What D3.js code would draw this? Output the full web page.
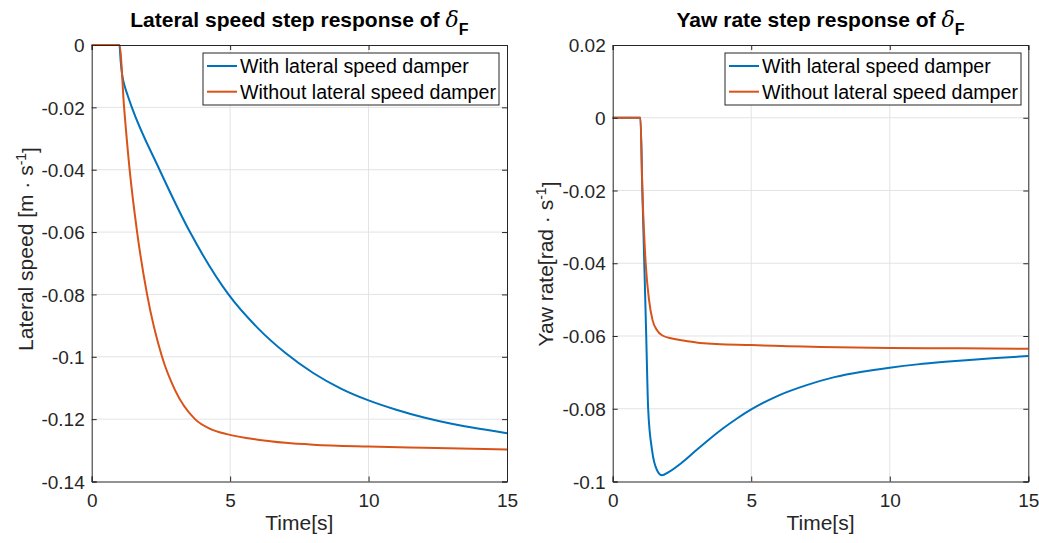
<!DOCTYPE html>
<html>
<head>
<meta charset="utf-8">
<script src="https://cdn.jsdelivr.net/npm/d3@7"></script>
<style>
  html, body { margin: 0; padding: 0; background: #fff; }
  svg { display: block; font-family: "Liberation Sans", Arial, sans-serif; }
</style>
</head>
<body>
<svg id="chart" width="1039" height="543"></svg>
<script>
// ---- Data ----
const xTicks = [0, 5, 10, 15];
const leftYTicks = [0, -0.02, -0.04, -0.06, -0.08, -0.1, -0.12, -0.14];
const rightYTicks = [0.02, 0, -0.02, -0.04, -0.06, -0.08, -0.1];
const seriesNames = ["With lateral speed damper", "Without lateral speed damper"];

// Lateral speed, with damper
const latWithT = [0, 1, 1.05, 1.1, 1.2, 1.3, 1.45, 2.45, 3.55, 4.94, 6, 7, 8, 9, 10, 11, 12, 13, 14, 15];
const latWithV = [0, 0, -0.0055, -0.0095, -0.0135, -0.0162, -0.02, -0.04, -0.06, -0.08, -0.0908, -0.0988, -0.1052, -0.1102, -0.114, -0.117, -0.1195, -0.1215, -0.1231, -0.1245];
// Lateral speed, without damper
const latWithoutT = [0, 1, 1.17, 1.37, 1.64, 2.0, 2.54, 3.01, 3.73, 4.3, 4.88, 6, 7, 8, 10, 12, 15];
const latWithoutV = [0, 0, -0.02, -0.04, -0.06, -0.08, -0.1, -0.1107, -0.12, -0.1232, -0.1248, -0.1266, -0.1276, -0.1282, -0.1288, -0.1292, -0.1297];
// Yaw rate, with damper
const yawWithT = [0, 1, 1.07, 1.14, 1.21, 1.28, 1.42, 1.6, 1.78, 2.0, 2.5, 3, 3.5, 4, 4.5, 5, 6, 7, 8, 9, 10, 11, 12, 13, 14, 15];
const yawWithV = [0, 0, -0.02, -0.04, -0.06, -0.08, -0.0914, -0.0969, -0.0983, -0.0975, -0.0948, -0.0915, -0.0883, -0.0853, -0.0826, -0.0802, -0.0763, -0.0735, -0.0713, -0.0698, -0.0687, -0.0678, -0.0671, -0.0665, -0.066, -0.0655];
// Yaw rate, without damper
const yawWithoutT = [0, 1, 1.07, 1.19, 1.31, 1.44, 1.6, 1.78, 2.14, 2.6, 3.16, 5, 7.5, 10, 12.5, 15];
const yawWithoutV = [0, 0, -0.02, -0.04, -0.05, -0.0557, -0.0584, -0.0598, -0.0607, -0.0613, -0.0619, -0.0625, -0.063, -0.0633, -0.0634, -0.0635];

const colors = ["#0072BD", "#D95319"];

const svg = d3.select("#chart");

function zip(ts, vs) { return ts.map((t, i) => [t, vs[i]]); }

function fmtTick(d) {
  if (d === 0) return "0";
  return String(+d.toFixed(3)); // plain hyphen-minus as in the reference
}

function drawPanel(cfg) {
  const x = d3.scaleLinear().domain([0, 15]).range([cfg.x0, cfg.x1]);
  const y = d3.scaleLinear().domain(cfg.yDomain).range([cfg.y1, cfg.y0]);
  const g = svg.append("g");

  // grid
  g.append("g").selectAll("line").data(xTicks.slice(1, -1)).join("line")
    .attr("x1", d => x(d)).attr("x2", d => x(d))
    .attr("y1", cfg.y0).attr("y2", cfg.y1)
    .attr("stroke", "#e3e3e3").attr("stroke-width", 1);
  g.append("g").selectAll("line").data(cfg.yTicks.filter(d => d !== cfg.yDomain[0] && d !== cfg.yDomain[1])).join("line")
    .attr("x1", cfg.x0).attr("x2", cfg.x1)
    .attr("y1", d => y(d)).attr("y2", d => y(d))
    .attr("stroke", "#e3e3e3").attr("stroke-width", 1);

  // lines
  const line = d3.line().x(d => x(d[0])).y(d => y(d[1])).curve(d3.curveMonotoneX);
  cfg.series.forEach((s, i) => {
    g.append("path").datum(s).attr("d", line)
      .attr("fill", "none").attr("stroke", colors[i]).attr("stroke-width", 2)
      .attr("stroke-linejoin", "round");
  });

  // axes
  const tickSize = 5;
  const axB = g.append("g").attr("transform", `translate(0,${cfg.y1})`)
    .call(d3.axisBottom(x).tickValues(xTicks).tickSize(-tickSize).tickPadding(12).tickFormat(d3.format("d")));
  const axT = g.append("g").attr("transform", `translate(0,${cfg.y0})`)
    .call(d3.axisTop(x).tickValues(xTicks).tickSize(-tickSize).tickFormat(""));
  const axL = g.append("g").attr("transform", `translate(${cfg.x0},0)`)
    .call(d3.axisLeft(y).tickValues(cfg.yTicks).tickSize(-tickSize).tickPadding(7).tickFormat(fmtTick));
  const axR = g.append("g").attr("transform", `translate(${cfg.x1},0)`)
    .call(d3.axisRight(y).tickValues(cfg.yTicks).tickSize(-tickSize).tickFormat(""));
  [axB, axT, axL, axR].forEach(a => {
    a.select(".domain").attr("stroke", "#262626").attr("stroke-width", 1);
    a.selectAll(".tick line").attr("stroke", "#262626");
    a.selectAll("text").attr("fill", "#262626").style("font-size", "19px")
      .style("font-family", '"Liberation Sans", Arial, sans-serif');
  });
  axB.selectAll("text").attr("dy", "0.71em");
  axL.selectAll("text").attr("dy", "0.35em");

  // x label
  g.append("text").attr("x", (cfg.x0 + cfg.x1) / 2).attr("y", 530)
    .attr("text-anchor", "middle").attr("fill", "#262626").style("font-size", "21px").text("Time[s]");

  // y label
  const yl = g.append("text")
    .attr("transform", `translate(${cfg.ylx},${cfg.yly}) rotate(-90)`)
    .attr("text-anchor", "middle").attr("fill", "#262626").style("font-size", "21px");
  yl.append("tspan").text(cfg.ylabel);
  yl.append("tspan").attr("dy", "-0.5em").style("font-size", "14px").text("-1");
  yl.append("tspan").attr("dy", "0.5em").text("]");

  // title
  const t = g.append("text").attr("x", (cfg.x0 + cfg.x1) / 2).attr("y", 27)
    .attr("text-anchor", "middle").attr("fill", "#000").style("font-size", "21px").style("font-weight", "bold");
  t.append("tspan").text(cfg.title + " ");
  t.append("tspan").style("font-weight", "normal").style("font-style", "italic").style("font-family", '"DejaVu Serif", serif').style("font-size", "22px").text("δ");
  t.append("tspan").attr("dy", "8").style("font-size", "16px").text("F");

  // legend
  const lg = g.append("g");
  lg.append("rect").attr("x", cfg.lx).attr("y", 53).attr("width", 296).attr("height", 52)
    .attr("fill", "#fff").attr("stroke", "#262626").attr("stroke-width", 1);
  seriesNames.forEach((n, i) => {
    const yy = 66 + i * 25.7;
    lg.append("line").attr("x1", cfg.lx + 4).attr("x2", cfg.lx + 34).attr("y1", yy).attr("y2", yy)
      .attr("stroke", colors[i]).attr("stroke-width", 2);
    lg.append("text").attr("x", cfg.lx + 37).attr("y", yy).attr("dy", "0.35em")
      .attr("fill", "#000").style("font-size", "19.6px").text(n);
  });
}

drawPanel({
  x0: 91.7, x1: 507, y0: 45, y1: 481.5,
  yDomain: [-0.14, 0], yTicks: leftYTicks,
  series: [zip(latWithT, latWithV), zip(latWithoutT, latWithoutV)],
  title: "Lateral speed step response of",
  ylabel: "Lateral speed [m · s", ylx: 33, yly: 249,
  lx: 203
});
drawPanel({
  x0: 612.7, x1: 1028.3, y0: 45, y1: 481.5,
  yDomain: [-0.1, 0.02], yTicks: rightYTicks,
  series: [zip(yawWithT, yawWithV), zip(yawWithoutT, yawWithoutV)],
  title: "Yaw rate step response of",
  ylabel: "Yaw rate[rad · s", ylx: 553, yly: 264,
  lx: 725
});
</script>
</body>
</html>
